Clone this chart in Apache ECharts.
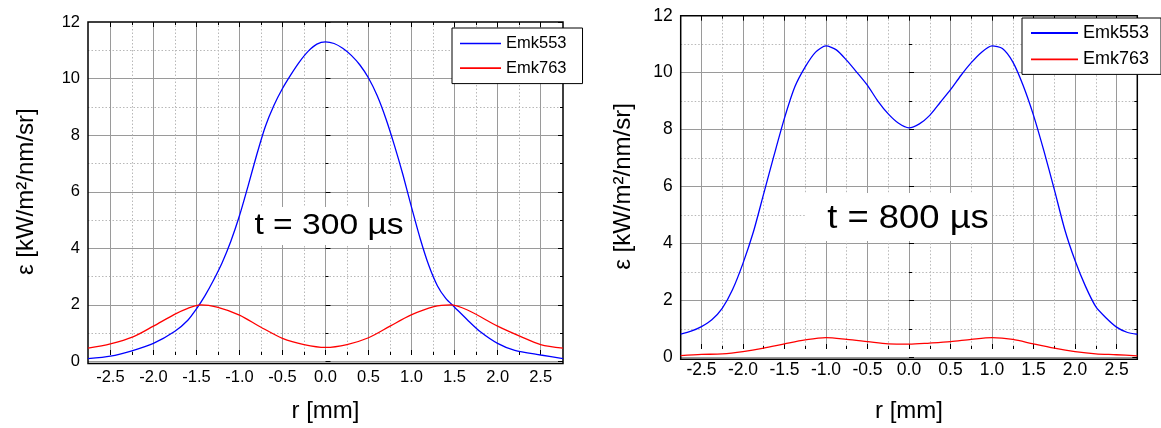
<!DOCTYPE html>
<html>
<head>
<meta charset="utf-8">
<script src="https://cdn.jsdelivr.net/npm/echarts@6/dist/echarts.min.js"></script>
<style>
    html, body { margin: 0; padding: 0; background: #fff; }
    #main { width: 1161px; height: 428px; }
</style>
</head>
<body>
<div id="main"></div>
<script>
    // t = 300 us, Emk553 (blue)
    var r300_553 = [-2.76, -2.5, -2.25, -2.0, -1.75, -1.6, -1.5, -1.4, -1.3, -1.2, -1.1, -1.0, -0.9, -0.8, -0.7, -0.6, -0.5, -0.4, -0.3, -0.2, -0.1, 0,
                    0.1, 0.2, 0.3, 0.4, 0.5, 0.6, 0.7, 0.8, 0.9, 1.0, 1.1, 1.2, 1.3, 1.4, 1.5, 1.65, 1.8, 2.0, 2.2, 2.5, 2.76];
    var emk553_300 = [0.1, 0.19, 0.38, 0.64, 1.07, 1.46, 1.86, 2.33, 2.88, 3.5, 4.25, 5.15, 6.2, 7.3, 8.3, 9.05, 9.65, 10.15, 10.6, 10.97, 11.22, 11.3,
                      11.24, 11.07, 10.82, 10.48, 10.02, 9.4, 8.6, 7.65, 6.6, 5.45, 4.35, 3.4, 2.68, 2.22, 1.92, 1.47, 1.05, 0.64, 0.39, 0.23, 0.1];
    // t = 300 us, Emk763 (red)
    var r300_763 = [-2.76, -2.5, -2.23, -2.0, -1.76, -1.6, -1.45, -1.26, -1.0, -0.76, -0.5, -0.25, 0, 0.25, 0.5, 0.75, 0.99, 1.26, 1.45, 1.65, 2.0, 2.27, 2.5, 2.76];
    var emk763_300 = [0.47, 0.62, 0.88, 1.25, 1.66, 1.88, 2.0, 1.92, 1.64, 1.23, 0.82, 0.6, 0.5, 0.6, 0.84, 1.25, 1.64, 1.94, 2.0, 1.82, 1.25, 0.88, 0.6, 0.47];

    // t = 800 us, Emk553 (blue)
    var r800_553 = [-2.75, -2.625, -2.5, -2.375, -2.25, -2.125, -2.0, -1.875, -1.75, -1.625, -1.5, -1.375, -1.25, -1.125, -1.0, -0.875, -0.75, -0.625, -0.5, -0.375, -0.25, -0.125, 0,
                    0.125, 0.25, 0.375, 0.5, 0.625, 0.75, 0.875, 1.0, 1.125, 1.25, 1.375, 1.5, 1.625, 1.75, 1.875, 2.0, 2.125, 2.25, 2.375, 2.5, 2.625, 2.75];
    var emk553_800 = [0.81, 0.92, 1.08, 1.32, 1.72, 2.38, 3.3, 4.4, 5.75, 7.1, 8.4, 9.5, 10.2, 10.72, 10.94, 10.8, 10.43, 10.0, 9.55, 9.0, 8.55, 8.22, 8.06,
                      8.2, 8.5, 8.95, 9.4, 9.9, 10.35, 10.72, 10.94, 10.85, 10.38, 9.55, 8.5, 7.25, 5.9, 4.5, 3.4, 2.5, 1.78, 1.38, 1.06, 0.88, 0.81];
    // t = 800 us, Emk763 (red)
    var r800_763 = [-2.75, -2.5, -2.25, -2.0, -1.75, -1.5, -1.25, -1.0, -0.75, -0.5, -0.25, 0, 0.25, 0.5, 0.75, 1.0, 1.25, 1.5, 1.75, 2.0, 2.25, 2.5, 2.75];
    var emk763_800 = [0.06, 0.1, 0.12, 0.2, 0.32, 0.47, 0.61, 0.69, 0.63, 0.55, 0.47, 0.46, 0.5, 0.55, 0.63, 0.69, 0.63, 0.47, 0.32, 0.2, 0.12, 0.09, 0.05];

    var seriesNames = ['Emk553', 'Emk763'];
    var annotations = ['t = 300 µs', 't = 800 µs'];
    var xTitle = 'r [mm]';
    var yTitle = 'ε [kW/m²/nm/sr]';
    var xMajor = [-2.5, 2.5];   // labelled range of r
    var yMajor = [0, 12];       // labelled range of epsilon

    var FONT = '"Liberation Sans", Arial, sans-serif';
    var grids = [], xAxes = [], yAxes = [], series = [];

    function pairs(xs, ys) {
        return xs.map(function (x, i) { return [x, ys[i]]; });
    }

    function hidden(gi, min, max) {
        return { gridIndex: gi, type: 'value', min: min, max: max, show: false };
    }

    function tickAxis(gi, min, max, interval, pos) {
        return {
            gridIndex: gi, type: 'value', min: min, max: max, interval: interval, position: pos,
            axisLine: { show: false },
            axisTick: { show: true, inside: true, length: 5, lineStyle: { color: '#000', width: 1 } },
            minorTick: { show: true, splitNumber: 2, length: 3, lineStyle: { color: '#000', width: 1 } },
            axisLabel: { show: false },
            splitLine: { show: false }
        };
    }

    function addPanel(p, blueX, blueY, redX, redY) {
        var g = grids.length;
        var xi = xAxes.length, yi = yAxes.length;
        var pxX = (p.R - p.L) / (p.xMax - p.xMin);
        var pxY = (p.B - p.T) / (p.yMax - p.yMin);

        // frame grid, carries the data
        grids.push({ left: p.L, top: p.T, width: p.R - p.L, height: p.B - p.T, show: true,
            borderColor: '#000', borderWidth: 1.5, backgroundColor: 'transparent', z: 3, containLabel: false });
        // grid for the vertical lines and x labels
        var vl = p.L + (xMajor[0] - p.xMin) * pxX, vr = p.L + (xMajor[1] - p.xMin) * pxX;
        grids.push({ left: vl, top: p.T, width: vr - vl, height: p.B - p.T, containLabel: false });
        // grid for the horizontal lines and y labels
        var ht = p.T + (p.yMax - yMajor[1]) * pxY, hb = p.T + (p.yMax - yMajor[0]) * pxY;
        grids.push({ left: p.L, top: ht, width: p.R - p.L, height: hb - ht, containLabel: false });

        xAxes.push(hidden(g, p.xMin, p.xMax));
        var xb = tickAxis(g + 1, xMajor[0], xMajor[1], 0.5, 'bottom');
        xb.axisLabel = { show: true, margin: p.xLabelMargin, fontSize: p.labelSize, color: '#000', fontFamily: FONT,
            formatter: function (v) { return v.toFixed(1); } };
        xb.splitLine = { show: true, lineStyle: { color: '#9a9a9a', width: 1 } };
        xb.minorSplitLine = { show: true, lineStyle: { color: '#b8b8b8', width: 1, type: [1.5, 2] } };
        xb.name = xTitle;
        xb.nameLocation = 'middle';
        xb.nameGap = p.xNameGap;
        xb.nameTextStyle = { fontSize: p.nameSize, color: '#000', fontFamily: FONT };
        xAxes.push(xb);
        xAxes.push(tickAxis(g + 1, xMajor[0], xMajor[1], 0.5, 'top'));
        xAxes.push(hidden(g + 2, p.xMin, p.xMax));

        yAxes.push(hidden(g, p.yMin, p.yMax));
        yAxes.push(hidden(g + 1, 0, 1));
        var yl = tickAxis(g + 2, yMajor[0], yMajor[1], 2, 'left');
        yl.axisLabel = { show: true, margin: p.yLabelMargin, fontSize: p.labelSize, color: '#000', fontFamily: FONT };
        yl.splitLine = { show: true, showMaxLine: false, lineStyle: { color: '#9a9a9a', width: 1 } };
        yl.minorSplitLine = { show: true, lineStyle: { color: '#b8b8b8', width: 1, type: [1.5, 2] } };
        yl.name = yTitle;
        yl.nameLocation = 'middle';
        yl.nameGap = p.yNameGap;
        yl.nameTextStyle = { fontSize: p.nameSize, color: '#000', fontFamily: FONT };
        yAxes.push(yl);
        yAxes.push(tickAxis(g + 2, yMajor[0], yMajor[1], 2, 'right'));

        series.push({ name: seriesNames[0], type: 'line', xAxisIndex: xi, yAxisIndex: yi, symbol: 'none', smooth: 0.25,
            lineStyle: { color: '#0000ff', width: 1.3 }, itemStyle: { color: '#0000ff' }, z: 4, data: pairs(blueX, blueY) });
        series.push({ name: seriesNames[1], type: 'line', xAxisIndex: xi, yAxisIndex: yi, symbol: 'none', smooth: 0.3,
            lineStyle: { color: '#ff0000', width: 1.3 }, itemStyle: { color: '#ff0000' }, z: 4, data: pairs(redX, redY) });
    }

    addPanel({ L: 88, R: 563, T: 22, B: 363.5, xMin: -2.76, xMax: 2.76, yMin: -0.07, yMax: 12,
        labelSize: 16.5, xLabelMargin: 14, yLabelMargin: 8, xNameGap: 44, yNameGap: 50, nameSize: 24 },
        r300_553, emk553_300, r300_763, emk763_300);
    addPanel({ L: 680.7, R: 1137.3, T: 15.7, B: 359.3, xMin: -2.75, xMax: 2.75, yMin: -0.07, yMax: 12,
        labelSize: 17.5, xLabelMargin: 12, yLabelMargin: 8, xNameGap: 50, yNameGap: 45, nameSize: 24 },
        r800_553, emk553_800, r800_763, emk763_800);

    function legendAt(left, top, pad, w, h, gap, fs) {
        return {
            orient: 'vertical', left: left, top: top, padding: pad, itemWidth: w, itemHeight: h, itemGap: gap,
            backgroundColor: '#fff', borderColor: '#000', borderWidth: 1, borderRadius: 0, z: 6,
            icon: 'path://M0 0H100V4H0Z', symbolKeepAspect: true,
            data: seriesNames, selectedMode: false,
            textStyle: { fontSize: fs, color: '#000', fontFamily: FONT }
        };
    }

    function note(box, cx, cy, text, fs) {
        return [
            { type: 'rect', z: 2, shape: box, style: { fill: '#fff' }, silent: true },
            { type: 'text', z: 2, x: cx, y: cy, scaleX: 1.12, silent: true,
              style: { text: text, fontSize: fs, fontFamily: FONT, fill: '#000', align: 'center', verticalAlign: 'middle' } }
        ];
    }

    var myChart = echarts.init(document.getElementById('main'));
    var option = {
        animation: false,
        backgroundColor: '#fff',
        textStyle: { fontFamily: FONT },
        grid: grids,
        xAxis: xAxes,
        yAxis: yAxes,
        legend: [
            legendAt(452, 28, [7, 16, 7, 8], 41, 14, 7.6, 16.5),
            legendAt(1022, 18, [6, 12, 6, 9], 47, 16, 8.4, 18)
        ],
        graphic: note({ x: 242, y: 207, width: 168, height: 38 }, 329, 226, annotations[0], 30)
            .concat(note({ x: 805, y: 193, width: 187, height: 48 }, 908, 219, annotations[1], 32.5)),
        series: series
    };
    myChart.setOption(option);
</script>
</body>
</html>
